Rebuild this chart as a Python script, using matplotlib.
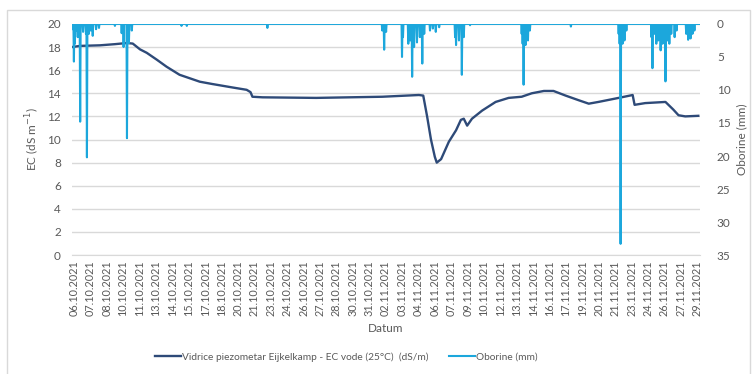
import numpy as np
import matplotlib
matplotlib.use('Agg')
import matplotlib.pyplot as plt
from matplotlib.patches import Rectangle

# EC readings: hours since 06.10.2021 00:00 and conductivity (dS/m)
ec_hours = [0, 17, 58, 89, 114, 126, 141, 155, 176, 196, 223, 265, 291, 333,
            362, 370, 374, 395, 506, 643, 719, 728, 736, 744, 752, 756, 765,
            781, 796, 806, 812, 819, 829, 850, 878, 905, 932, 953, 978, 998,
            1023, 1050, 1071, 1091, 1133, 1162, 1166, 1188, 1230, 1246, 1257,
            1271, 1298]
ec_values = [18.0, 18.1, 18.15, 18.25, 18.35, 18.3, 17.8, 17.5, 16.9, 16.3,
             15.6, 15.0, 14.8, 14.5, 14.3, 14.1, 13.7, 13.65, 13.6, 13.7,
             13.85, 13.8, 12.0, 10.0, 8.5, 8.0, 8.3, 9.8, 10.8, 11.7, 11.8,
             11.2, 11.8, 12.5, 13.25, 13.6, 13.7, 14.0, 14.2, 14.2, 13.8,
             13.4, 13.1, 13.25, 13.6, 13.85, 13.0, 13.15, 13.25, 12.6, 12.1,
             12.0, 12.05]

# hourly rainfall (mm), only the hours with rain
rain_hours = [2, 4, 6, 8, 10, 12, 17, 23, 29, 31, 35, 39, 43, 50, 56, 89,
              103, 107, 114, 118, 124, 227, 238, 405, 643, 647, 651, 684, 686,
              697, 701, 705, 709, 715, 721, 726, 730, 742, 748, 754, 761, 794,
              796, 802, 808, 812, 825, 932, 934, 936, 940, 945, 949, 1034,
              1133, 1135, 1137, 1141, 1145, 1149, 1201, 1203, 1207, 1211, 1215,
              1220, 1224, 1226, 1230, 1234, 1238, 1242, 1249, 1253, 1273, 1277,
              1282, 1286, 1290]
rain_mm = [0.8, 5.7, 3.0, 1.0, 0.6, 2.0, 14.8, 1.2, 1.5, 20.2, 1.5, 1.0, 1.8,
           0.8, 0.6, 0.3, 1.4, 3.5, 17.3, 2.9, 1.0, 0.3, 0.3, 0.6, 1.0, 3.9,
           1.2, 5.0, 2.0, 3.0, 2.5, 8.0, 3.5, 2.8, 2.0, 6.0, 1.5, 1.0, 0.7,
           1.2, 0.5, 2.0, 3.2, 2.5, 7.7, 2.0, 0.2, 1.5, 3.0, 9.2, 3.2, 2.5,
           1.0, 0.4, 1.5, 3.0, 33.3, 3.0, 2.5, 1.0, 2.0, 6.7, 1.5, 3.0, 2.5,
           4.0, 3.0, 2.0, 8.7, 2.5, 3.0, 1.5, 2.0, 1.0, 1.5, 2.4, 2.2, 1.5,
           1.0]

date_labels = ['06.10.2021', '07.10.2021', '08.10.2021', '10.10.2021',
               '11.10.2021', '13.10.2021', '14.10.2021', '15.10.2021',
               '17.10.2021', '18.10.2021', '20.10.2021', '21.10.2021',
               '23.10.2021', '24.10.2021', '26.10.2021', '27.10.2021',
               '28.10.2021', '30.10.2021', '31.10.2021', '02.11.2021',
               '03.11.2021', '04.11.2021', '06.11.2021', '07.11.2021',
               '09.11.2021', '10.11.2021', '12.11.2021', '13.11.2021',
               '14.11.2021', '16.11.2021', '17.11.2021', '19.11.2021',
               '20.11.2021', '21.11.2021', '23.11.2021', '24.11.2021',
               '26.11.2021', '27.11.2021', '29.11.2021']

n_hours = 1302
rain = np.zeros(n_hours)
rain[rain_hours] = rain_mm

grey = '#595959'
plt.rcParams['font.family'] = ['Lato', 'DejaVu Sans']

fig = plt.figure(figsize=(7.56, 3.74), dpi=100)
fig.patches.append(Rectangle((0.009, -0.01), 0.983, 0.983, transform=fig.transFigure,
                             fill=False, edgecolor='#d9d9d9', linewidth=1))
ax = fig.add_axes([0.0952, 0.318, 0.831, 0.618])

ax.plot(ec_hours, ec_values, color='#2e4a78', linewidth=1.7,
        label='Vidrice piezometar Eijkelkamp - EC vode (25°C)  (dS/m)')
ax.set_ylim(0, 20)
ax.set_yticks(range(0, 21, 2))
ax.set_xlim(0, n_hours)
ax.grid(axis='y', color='#d9d9d9', linewidth=1)
ax.set_axisbelow(True)
for s in ['top', 'left', 'right']:
    ax.spines[s].set_visible(False)
ax.spines['bottom'].set_color('#d9d9d9')
ax.tick_params(axis='y', length=0, labelsize=8.5, labelcolor=grey, pad=8)
ax.set_xticks(np.arange(len(date_labels)) * 34 + 4)
ax.set_xticklabels(date_labels, rotation=90)
ax.tick_params(axis='x', length=0, labelsize=7.8, labelcolor=grey, pad=4)
ax.set_ylabel('EC (dS m$^{-1}$)', fontsize=8.5, color=grey, labelpad=4)
ax.set_xlabel('Datum', fontsize=8.5, color=grey, labelpad=5)

ax2 = ax.twinx()
ax2.plot(np.arange(n_hours), rain, color='#1ca7dc', linewidth=1.5,
         label='Oborine (mm)')
ax2.set_ylim(35, 0)
ax2.set_yticks(range(0, 36, 5))
for s in ['top', 'left', 'right', 'bottom']:
    ax2.spines[s].set_visible(False)
ax2.tick_params(axis='y', length=0, labelsize=8.5, labelcolor=grey, pad=12)
ax2.set_ylabel('Oborine (mm)', fontsize=8.5, color=grey, labelpad=4)

h1, l1 = ax.get_legend_handles_labels()
h2, l2 = ax2.get_legend_handles_labels()
fig.legend(h1 + h2, l1 + l2, loc='center', bbox_to_anchor=(0.458, 0.045), ncol=2,
           frameon=False, fontsize=7.3, labelcolor=grey, handlelength=2.6,
           handletextpad=0.1, columnspacing=2.0)

fig.savefig('out.png', dpi=100)
